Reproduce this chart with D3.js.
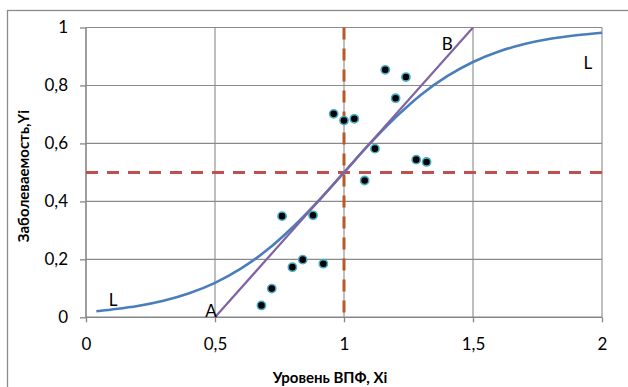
<!DOCTYPE html>
<html><head><meta charset="utf-8">
<script src="https://cdn.jsdelivr.net/npm/d3@7"></script>
<style>body{margin:0;background:#fff}svg{display:block}</style>
</head><body>
<svg id="c" width="628" height="387"></svg>
<script>
// Observed points
const pointsX = [0.68,0.72,0.76,0.80,0.84,0.88,0.92,0.96,1.00,1.04,1.08,1.12,1.16,1.20,1.24,1.28,1.32];
const pointsY = [0.041,0.099,0.349,0.173,0.199,0.352,0.185,0.702,0.679,0.685,0.472,0.582,0.854,0.756,0.829,0.544,0.536];
// Curve L
const curveX = [0.04,0.1,0.2,0.3,0.4,0.5,0.6,0.7,0.8,0.9,1.0,1.1,1.2,1.3,1.4,1.5,1.6,1.7,1.8,1.9,2.0];
const curveY = [0.021,0.027,0.039,0.057,0.083,0.119,0.168,0.231,0.310,0.401,0.5,0.599,0.690,0.769,0.832,0.881,0.917,0.943,0.961,0.973,0.982];
// Line AB
const lineX = [0.5,1.5];
const lineY = [0,1];
// reference lines
const refX = 1;
const refY = 0.5;
const xTicks = [0,0.5,1,1.5,2];
const xTickLabels = ["0","0,5","1","1,5","2"];
const yTicks = [0,0.2,0.4,0.6,0.8,1];
const yTickLabels = ["0","0,2","0,4","0,6","0,8","1"];
const labels = [{t:"L",x:0.105,y:0.06},{t:"A",x:0.485,y:0.025},{t:"B",x:1.4,y:0.945},{t:"L",x:1.945,y:0.88}];
const xTitle = "Уровень ВПФ, Xi";
const yTitle = "Заболеваемость,Yi";

const svg = d3.select("#c");
const font = "Lato, 'Open Sans', sans-serif";
const x = d3.scaleLinear().domain([0,2]).range([86,602]);
const y = d3.scaleLinear().domain([0,1]).range([317.3,27.5]);

svg.append("rect").attr("x",7.5).attr("y",10.5).attr("width",640).attr("height",400)
  .attr("fill","none").attr("stroke","#8c8c8c").attr("stroke-width",1.3);

const grid = "#8a8a8a";
// horizontal gridlines
svg.append("g").selectAll("line").data(yTicks.filter(d=>d>0)).join("line")
  .attr("x1",x(0)).attr("x2",x(2)).attr("y1",d=>y(d)).attr("y2",d=>y(d))
  .attr("stroke",grid).attr("stroke-width",1.1);
// vertical gridlines
svg.append("g").selectAll("line").data(xTicks.filter(d=>d>0)).join("line")
  .attr("y1",y(0)).attr("y2",y(1)).attr("x1",d=>x(d)).attr("x2",d=>x(d))
  .attr("stroke",grid).attr("stroke-width",1.1);

// axes
const xAxis = svg.append("g").attr("transform",`translate(0,${y(0)})`)
  .call(d3.axisBottom(x).tickValues(xTicks).tickFormat((d,i)=>xTickLabels[i]).tickSize(5).tickPadding(16));
const yAxis = svg.append("g").attr("transform",`translate(${x(0)},0)`)
  .call(d3.axisLeft(y).tickValues(yTicks).tickFormat((d,i)=>yTickLabels[i]).tickSize(6).tickPadding(12));
[xAxis,yAxis].forEach(a=>{
  a.select(".domain").attr("stroke","#868686").attr("stroke-width",1.6);
  a.selectAll(".tick line").attr("stroke","#868686").attr("stroke-width",1.3);
  a.selectAll("text").attr("font-family",font).attr("font-size",17).attr("fill","#000");
});
xAxis.select(".domain").attr("d",`M${x(0)},0H${x(2)}`);
yAxis.select(".domain").attr("d",`M0,${y(0)}V${y(1)}`);

// dashed reference lines
svg.append("line").attr("x1",x(0)).attr("x2",x(2)).attr("y1",y(refY)).attr("y2",y(refY))
  .attr("stroke","#c0504d").attr("stroke-width",3).attr("stroke-dasharray","12,9");
svg.append("line").attr("x1",x(refX)).attr("x2",x(refX)).attr("y1",y(1)).attr("y2",y(0))
  .attr("stroke","#b9592a").attr("stroke-width",3).attr("stroke-dasharray","12,9");

// curve L
const cData = curveX.map((v,i)=>[v,curveY[i]]);
svg.append("path").datum(cData)
  .attr("d",d3.line().x(d=>x(d[0])).y(d=>y(d[1])).curve(d3.curveCatmullRom))
  .attr("fill","none").attr("stroke","#4a7ebb").attr("stroke-width",2.6);

// line AB
const lData = lineX.map((v,i)=>[v,lineY[i]]);
svg.append("path").datum(lData)
  .attr("d",d3.line().x(d=>x(d[0])).y(d=>y(d[1])))
  .attr("fill","none").attr("stroke","#8064a2").attr("stroke-width",2.2);

// points
const pData = pointsX.map((v,i)=>[v,pointsY[i]]);
svg.append("g").selectAll("circle").data(pData).join("circle")
  .attr("cx",d=>x(d[0])).attr("cy",d=>y(d[1])).attr("r",4.1)
  .attr("fill","#000").attr("stroke","#4bacc6").attr("stroke-width",1.6);

// labels
svg.append("g").selectAll("text").data(labels).join("text")
  .attr("x",d=>x(d.x)).attr("y",d=>y(d.y)).attr("text-anchor","middle").attr("dominant-baseline","central")
  .attr("font-family",font).attr("font-size",17).text(d=>d.t);

// titles
svg.append("text").attr("x",330).attr("y",383).attr("text-anchor","middle")
  .attr("font-family",font).attr("font-size",15).attr("font-weight","bold").text(xTitle);
svg.append("text").attr("transform","translate(29,176) rotate(-90)").attr("text-anchor","middle")
  .attr("font-family",font).attr("font-size",15).attr("font-weight","bold").text(yTitle);
</script>
</body></html>
